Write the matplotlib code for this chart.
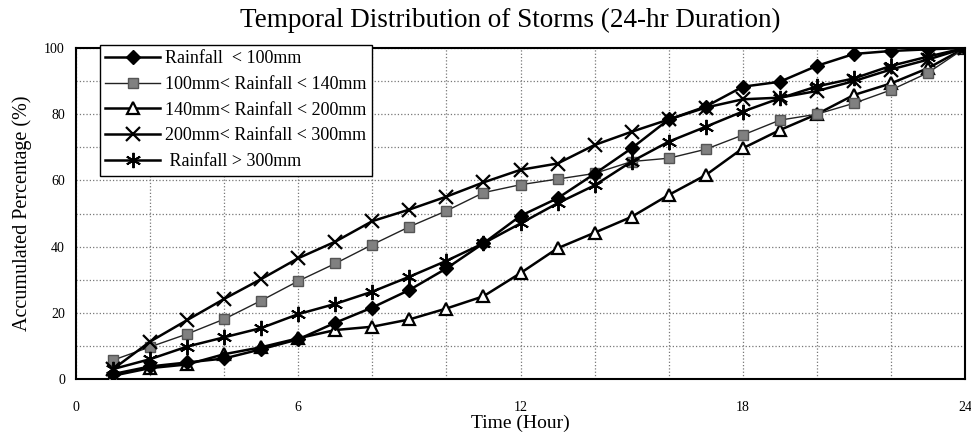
import matplotlib
matplotlib.use("Agg")
import matplotlib.pyplot as plt
from matplotlib.ticker import MultipleLocator

hours = list(range(1, 25))
s_lt100 = [1.5, 3.8, 5.0, 6.2, 9.0, 12.0, 17.0, 21.6, 26.9, 33.4, 41.0, 49.3,
           54.6, 62.0, 69.7, 78.4, 82.3, 88.3, 89.8, 94.6, 98.2, 99.1, 99.6, 100]
s_100_140 = [5.7, 9.7, 13.6, 18.1, 23.7, 29.6, 34.9, 40.6, 46.0, 50.8, 56.3, 58.7,
             60.4, 62.1, 65.7, 66.7, 69.4, 73.7, 78.2, 80.0, 83.3, 87.3, 92.5, 100]
s_140_200 = [1.0, 3.3, 4.4, 7.5, 9.6, 12.3, 14.8, 15.8, 18.0, 21.3, 25.0, 32.0,
             39.5, 44.2, 49.0, 55.6, 61.6, 69.7, 75.2, 80.0, 85.8, 89.3, 93.9, 100]
s_200_300 = [3.0, 11.3, 17.8, 24.2, 30.2, 36.5, 41.5, 47.7, 51.2, 55.1, 59.4, 63.2,
             65.1, 70.7, 74.7, 78.4, 82.0, 84.5, 85.0, 87.0, 90.0, 93.5, 96.5, 100]
s_gt300 = [3.0, 6.0, 9.8, 12.6, 15.4, 19.6, 22.7, 26.4, 30.9, 35.7, 41.0, 47.0,
           53.1, 58.5, 65.7, 71.7, 76.2, 80.8, 84.8, 88.4, 90.8, 94.6, 97.4, 100]

labels = ["Rainfall  < 100mm", "100mm< Rainfall < 140mm", "140mm< Rainfall < 200mm",
          "200mm< Rainfall < 300mm", " Rainfall > 300mm"]
x_ticks = [0, 6, 12, 18, 24]
y_ticks = [0, 20, 40, 60, 80, 100]

plt.rcParams['font.family'] = ['Liberation Serif', 'DejaVu Serif']

fig = plt.figure(figsize=(9.71, 4.34), dpi=100)
ax = fig.add_axes([0.0783, 0.1267, 0.9155, 0.7627])

ax.plot(hours, s_lt100, color='black', lw=1.8, marker='D', ms=7,
        mfc='black', mec='black', label=labels[0], zorder=5)
ax.plot(hours, s_100_140, color='#222222', lw=1.0, marker='s', ms=7,
        mfc='#808080', mec='#555555', label=labels[1], zorder=4)
ax.plot(hours, s_140_200, color='black', lw=1.8, marker='^', ms=9,
        mfc='white', mec='black', mew=1.6, label=labels[2], zorder=3)
ax.plot(hours, s_200_300, color='black', lw=1.8, marker='x', ms=10,
        mec='black', mew=1.6, label=labels[3], zorder=4)
ax.plot(hours, s_gt300, color='black', lw=1.8, marker=(6, 2, 0), ms=11,
        mec='black', mew=1.4, label=labels[4], zorder=4)

ax.set_xlim(0, 24)
ax.set_ylim(0, 100)
ax.set_xticks(x_ticks)
ax.set_yticks(y_ticks)
ax.xaxis.set_minor_locator(MultipleLocator(2))
ax.yaxis.set_minor_locator(MultipleLocator(10))
ax.grid(True, which='both', color='#777777', ls=':', lw=0.9)
ax.tick_params(axis='both', which='both', length=0, labelsize=10)
ax.tick_params(axis='x', pad=16)
ax.tick_params(axis='y', pad=8)
for sp in ax.spines.values():
    sp.set_linewidth(1.5)
    sp.set_color('black')

ax.set_xlabel("Time (Hour)", fontsize=14, labelpad=0)
ax.set_ylabel("Accumulated Percentage (%)", fontsize=14.5, labelpad=9)
fig.text(0.525, 0.952, "Temporal Distribution of Storms (24-hr Duration)",
         ha='center', va='center', fontsize=19.5)

leg = ax.legend(loc='upper left', bbox_to_anchor=(100 / 971, 1 - 45 / 434),
                bbox_transform=fig.transFigure, fontsize=13, frameon=True,
                fancybox=False, edgecolor='black', framealpha=1,
                handlelength=3.0, borderpad=0.3, labelspacing=0.48,
                handletextpad=0.3, borderaxespad=0)
leg.get_frame().set_linewidth(1.0)

fig.savefig("out.png", dpi=100)
